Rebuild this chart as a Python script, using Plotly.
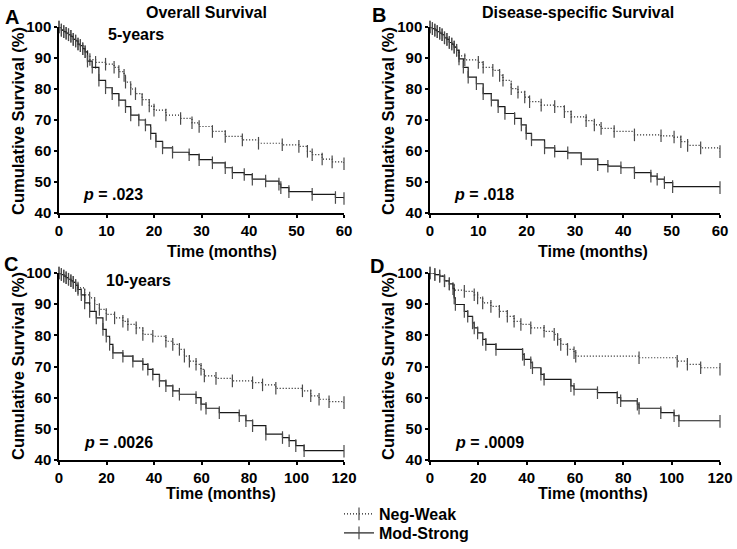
import plotly.graph_objects as go

# ── Kaplan-Meier curves (time in months, survival in %) ──
# Panel A: overall survival, 5 years
a_nw_t = [0, 0.5, 1, 1.5, 2, 2.5, 3, 3.5, 4, 4.5, 5, 5.5, 6, 6.5, 7.7, 9.8, 11.6, 12.6, 13.7, 14, 15.1, 16.1,
          17.5, 19, 20, 22.5, 25.6, 28, 29.5, 32.3, 35, 38.6, 42, 47, 50.5, 52.3, 53.3, 55.4, 57.5, 60]
a_nw_s = [100, 99, 98.5, 98, 97.5, 97, 96, 95.5, 94.5, 94, 93, 92, 90.5, 89.5, 88.6, 88, 87, 85.6, 84.4, 82.2, 80, 78.5,
          76.6, 74.5, 73.2, 71.6, 70.5, 69.1, 67.9, 66.3, 64.7, 63.6, 62.5, 62, 61.5, 59.9, 58.8, 57.4, 56.5, 55.9]
a_ms_t = [0, 0.5, 1, 1.5, 2, 2.5, 3, 3.5, 4, 4.5, 5, 5.5, 6, 7, 8.4, 9.8, 11.2, 12.6, 14, 15.1, 16.8, 18.2,
          19.3, 20.4, 21.8, 23.9, 27.4, 29.5, 32.3, 35, 36.5, 39, 40.7, 43.5, 46.3, 46.7, 48.4, 53.3, 58.2, 60]
a_ms_s = [100, 99, 98.5, 98, 97.5, 97, 96, 95.5, 94.5, 94, 93, 92, 89, 87, 82.8, 80.4, 78.5, 76.4, 74.3, 71.6, 70, 68.4,
          65.7, 63.1, 61, 59.6, 58.8, 57.2, 56.2, 54.6, 53, 52.4, 50.9, 50.3, 49.3, 48.2, 46.9, 46, 45, 44.7]

# Panel B: disease-specific survival, 5 years
b_nw_t = [0, 0.5, 1, 1.5, 2, 2.5, 3, 3.5, 4, 4.5, 5, 5.5, 6, 7.2, 10, 11, 13, 14.4, 15.1, 16.8, 18.2, 19.6,
          20.6, 23, 25.8, 27.8, 29.2, 32.3, 34, 35.4, 38.1, 42.3, 47.8, 50.5, 51.9, 53.3, 56, 60]
b_nw_s = [100, 99.5, 99, 98.5, 98, 97.5, 96.5, 96, 95, 94.5, 93.5, 92.5, 90.7, 89.4, 88.6, 87, 86, 84.4, 82.8, 80.1, 79, 77.4,
          75.9, 74.8, 74.3, 72.7, 71, 69.8, 68.4, 67.3, 66.3, 65.2, 64.9, 64.5, 63, 61.8, 61, 59.8]
b_ms_t = [0, 0.5, 1, 1.5, 2, 2.5, 3, 3.5, 4, 4.5, 5, 5.5, 6, 6.9, 7.9, 9.6, 11, 12.7, 14.1, 15.5, 17.5, 18.9,
          19.9, 21, 23.7, 25.8, 28.5, 31.3, 34.7, 36.8, 39.5, 42.3, 45.7, 47, 48.5, 50.2, 60]
b_ms_s = [100, 99.5, 99, 98.5, 98, 97.5, 96.5, 96, 95, 94.5, 93.5, 92.5, 89.7, 87, 83.8, 81.7, 78.5, 76.4, 74.3, 72.1, 70.5, 68.4,
          65.7, 63.6, 61, 59.9, 59.4, 57.4, 55.6, 55.1, 54.6, 53, 51.9, 50.9, 49.8, 48.5, 48.2]

# Panel C: overall survival, 10 years
c_nw_t = [0, 1, 2, 3, 4, 5, 6, 7, 8, 10.8, 12.9, 15, 17, 19.9, 23.4, 26.9, 29, 32.5, 35.3, 39.5, 45, 47.9,
          50.7, 52.8, 54.9, 57.7, 59.8, 61.2, 66.1, 73, 81.5, 85.7, 91.3, 102.5, 106, 109.5, 113.7, 120]
c_nw_s = [100, 99.5, 99, 98.5, 98, 97.5, 97, 96, 95.2, 93, 92, 89.9, 88.3, 86.7, 85.6, 84.5, 83.5, 82.4, 80.3, 79.7, 78.1, 77.1,
          75.5, 73.3, 71.7, 70.7, 69.1, 67, 66.2, 65.4, 64.8, 64.1, 63, 62.2, 60.6, 59.5, 58.7, 58.4]
c_ms_t = [0, 1, 2, 3, 4, 5, 6, 7, 8, 9.4, 10.8, 12.9, 15.7, 18.5, 19.9, 21.3, 22.7, 26.9, 31.1, 35.3, 37.4, 39.5,
          42.3, 45, 47.9, 50.7, 57.7, 59.8, 61.9, 67.5, 75.9, 78.7, 81.5, 87.1, 94.1, 96.9, 99.7, 103.2, 120]
c_ms_s = [100, 99.5, 99, 98.5, 98, 97.5, 97, 96, 94.7, 93, 90.4, 87.7, 85.6, 81.9, 79.7, 77.1, 74.4, 73.3, 71.7, 70.7, 69.1, 67.5,
          65.4, 63.8, 62.2, 61.1, 60, 57.9, 56.6, 55.2, 54.2, 52.6, 51, 48.3, 47.2, 46.2, 44.6, 43, 42.8]

# Panel D: disease-specific survival, 10 years
d_nw_t = [0, 2, 4, 6, 8, 10, 14.2, 18.3, 19.7, 21.8, 25.2, 28.7, 32, 34.8, 37.6, 41.7, 47.2, 51.4, 52.8, 54.1,
          56.9, 59.6, 60.3, 86.5, 102.3, 106.5, 112, 120]
d_nw_s = [100, 99.5, 99, 97.5, 96.5, 94.5, 94.1, 93, 92, 90.4, 89.3, 87.7, 86.1, 84.5, 83.5, 82.4, 81.3, 80.3, 78.7, 77.1,
          75.5, 74.4, 73.3, 72.8, 71.7, 70.7, 69.6, 69.1]
d_ms_t = [0, 2, 4, 6, 8, 9.5, 10, 10.5, 14.2, 15.6, 17.6, 18.3, 19.7, 21.8, 23.1, 27.3, 38.3, 39, 41.7, 42.4, 45.9,
          47.2, 58.3, 59.6, 69.3, 77.5, 78.9, 85.8, 86.5, 95.5, 101, 103, 120]
d_ms_s = [100, 99.5, 99, 97.5, 96.5, 95, 92, 89.9, 87.7, 86.1, 84, 82.4, 80.8, 78.7, 77.1, 75.5, 73.9, 72.3, 71.2, 69.6, 67.5,
          65.9, 63.8, 62.7, 61.6, 60, 59, 57.9, 56.6, 55.2, 54.2, 52.6, 52.4]

x_ticks_5y = [0, 10, 20, 30, 40, 50, 60]
x_ticks_10y = [0, 20, 40, 60, 80, 100, 120]
y_ticks = [40, 50, 60, 70, 80, 90, 100]
groups = ["Neg-Weak", "Mod-Strong"]
p_labels = [".023", ".018", ".0026", ".0009"]

W, H = 737, 549
FONT = "Liberation Sans, Arial, sans-serif"


def px(x):
    return x / W


def py(y):
    return 1 - y / H


panels = [
    # (curves, axis suffix, x extent px, y extent px, x max, x ticks)
    ((a_nw_t, a_nw_s, a_ms_t, a_ms_s), "", (59, 344), (27, 213), 60, x_ticks_5y),
    ((b_nw_t, b_nw_s, b_ms_t, b_ms_s), "2", (430, 720), (27, 213), 60, x_ticks_5y),
    ((c_nw_t, c_nw_s, c_ms_t, c_ms_s), "3", (59, 344), (273, 460), 120, x_ticks_10y),
    ((d_nw_t, d_nw_s, d_ms_t, d_ms_s), "4", (430, 720), (273, 460), 120, x_ticks_10y),
]

fig = go.Figure()
layout_axes = {}
for i, (curves, sfx, xd, yd, xmax, xt) in enumerate(panels):
    nw_t, nw_s, ms_t, ms_s = curves
    # each group gets its own one-row legend so the two rows sit as close as in the original
    for name, t, s, dash, leg in [(groups[0], nw_t, nw_s, "1px,2px", "legend"),
                                  (groups[1], ms_t, ms_s, "solid", "legend2")]:
        fig.add_trace(go.Scatter(
            x=t, y=s, name=name, mode="lines+markers",
            line=dict(shape="hv", color="#1a1a1a", width=1.2, dash=dash),
            marker=dict(symbol="line-ns", size=9, line=dict(width=1.2, color="#4a4a4a")),
            xaxis="x" + sfx, yaxis="y" + sfx, cliponaxis=False,
            showlegend=(i == 0), legend=leg,
        ))
    common = dict(showline=True, linecolor="black", linewidth=1.5, ticks="outside", ticklen=3,
                  tickwidth=1.5, tickcolor="black", showgrid=False, zeroline=False, automargin=False,
                  tickfont=dict(family=FONT, size=15, color="black", weight="bold"))
    layout_axes["xaxis" + sfx] = dict(common, domain=[px(xd[0]), px(xd[1])], range=[0, xmax],
                                      tickvals=xt, anchor="y" + sfx)
    layout_axes["yaxis" + sfx] = dict(common, domain=[py(yd[1]), py(yd[0])], range=[40, 100],
                                      tickvals=y_ticks, anchor="x" + sfx)

fig.update_layout(**layout_axes)

annotations = []


def ann(text, x, y, size=16, angle=0):
    annotations.append(dict(text="<b>%s</b>" % text, x=px(x), y=py(y), xref="paper", yref="paper",
                            showarrow=False, xanchor="center", yanchor="middle", textangle=angle,
                            font=dict(family=FONT, size=size, color="black")))


# panel letters and headings
ann("A", 12, 17, 20)
ann("B", 379, 15, 20)
ann("C", 11, 264, 20)
ann("D", 377, 266, 20)
ann("Overall Survival", 206, 13)
ann("Disease-specific Survival", 578, 13)
ann("5-years", 136, 34)
ann("10-years", 138, 280)

# axis titles
for cx, cy in [(222, 251), (593, 251), (221, 493), (593, 493)]:
    ann("Time (months)", cx, cy)
for cx, cy in [(18, 121), (388, 121), (18, 366), (388, 366)]:
    ann("Cumulative Survival (%)", cx, cy, 16.5, -90)

# p values
for (cx, cy), p in zip([(113, 195), (484, 195), (118, 442), (489, 442)], p_labels):
    ann("<i>p</i> = " + p, cx, cy)

leg_style = dict(xanchor="left", yanchor="top", bgcolor="rgba(0,0,0,0)", itemwidth=30,
                 font=dict(family=FONT, size=16, color="black", weight="bold"))
fig.update_layout(
    width=W, height=H,
    margin=dict(l=0, r=0, t=0, b=0, autoexpand=False),
    paper_bgcolor="white", plot_bgcolor="white",
    annotations=annotations,
    showlegend=True,
    legend=dict(leg_style, x=px(339), y=py(497)),
    legend2=dict(leg_style, x=px(339), y=py(516)),
)

# the page body has a default 8px margin; drop it so the figure fills the window
fig.write_html("out.html", config={"displayModeBar": False},
               post_script="document.body.style.margin = '0';")
